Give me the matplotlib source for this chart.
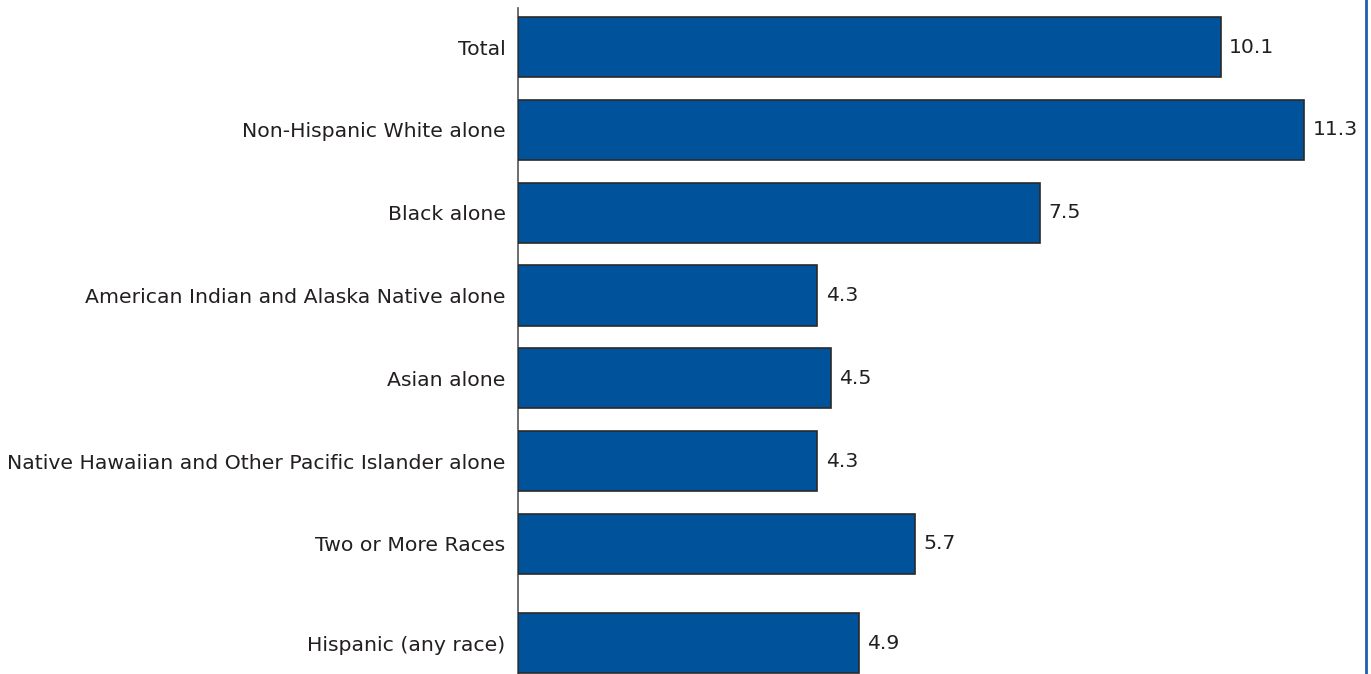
import matplotlib

matplotlib.use("Agg")
import matplotlib.pyplot as plt
from matplotlib.lines import Line2D

plt.rcParams["font.family"] = "DejaVu Sans"

categories = [
    "Total",
    "Non-Hispanic White alone",
    "Black alone",
    "American Indian and Alaska Native alone",
    "Asian alone",
    "Native Hawaiian and Other Pacific Islander alone",
    "Two or More Races",
    "Hispanic (any race)",
]
values = [10.1, 11.3, 7.5, 4.3, 4.5, 4.3, 5.7, 4.9]
positions = [0, 1, 2, 3, 4, 5, 6, 7.2]

BAR = "#00529b"
FG = "#231f20"

W, H = 1371, 674
fig = plt.figure(figsize=(W / 100, H / 100), dpi=100)
ax = fig.add_axes([518 / W, 0, (1365 - 518) / W, (674 - 8) / H])

ax.barh(positions, values, height=0.725, color=BAR, edgecolor="#2a2a2a", linewidth=1.2, zorder=3)
for p, v in zip(positions, values):
    ax.text(v + 0.12, p, f"{v:.1f}", va="center", ha="left", fontsize=14.7, color=FG)

ax.set_xlim(0, (1365 - 518) / 69.6)
ax.set_ylim(7.57, -0.471)
ax.set_yticks(positions, categories)
ax.set_xticks([])
ax.tick_params(axis="y", length=0, pad=9, labelsize=14.7, labelcolor=FG)
for s in ("top", "right", "bottom"):
    ax.spines[s].set_visible(False)
ax.spines["left"].set_color("#555555")
ax.spines["left"].set_linewidth(1.2)

fig.add_artist(Line2D([1366 / W, 1366 / W], [0, 1], color="#1f5fa8", linewidth=2))

fig.savefig("out.png", dpi=100)
